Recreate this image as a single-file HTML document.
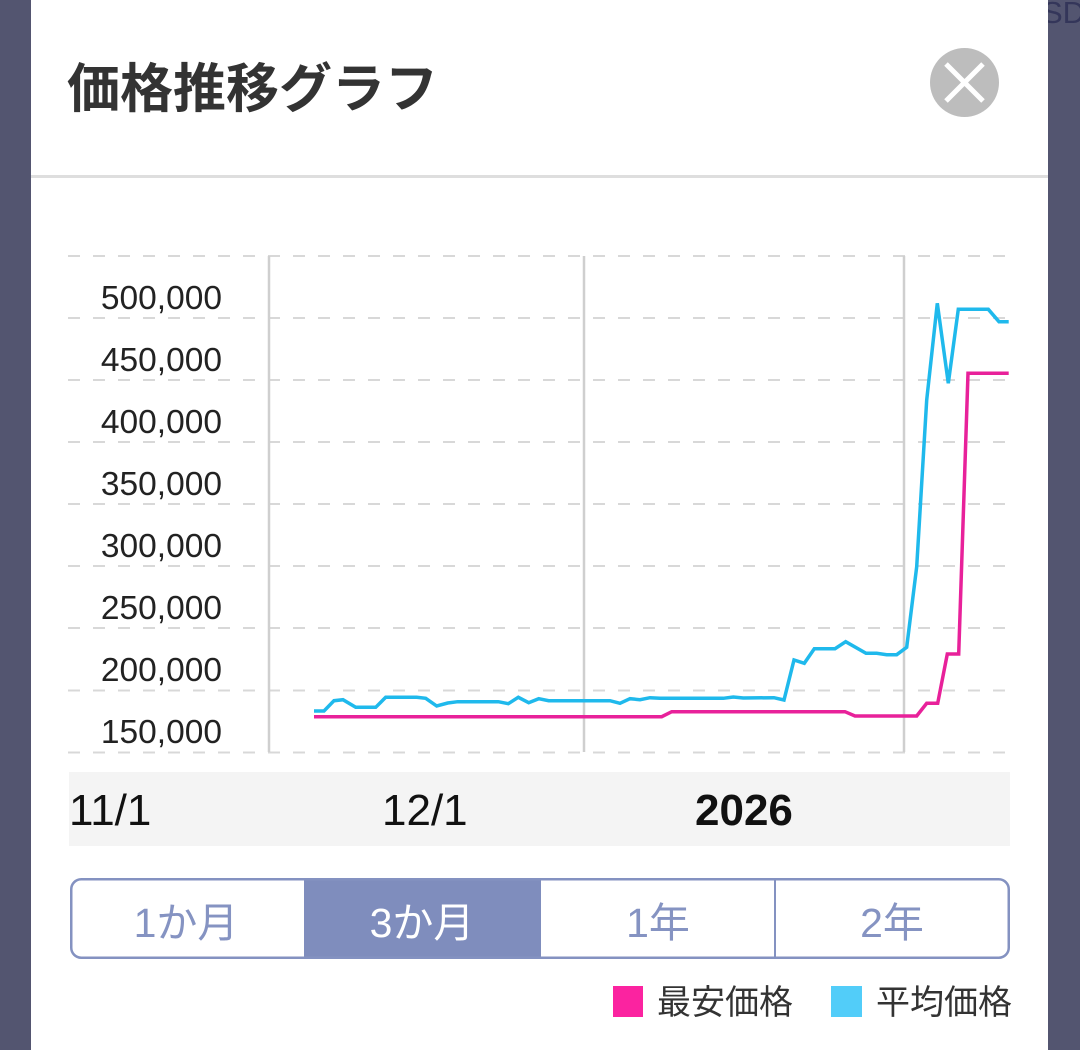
<!DOCTYPE html>
<html>
<head>
<meta charset="utf-8">
<style>
html,body{margin:0;padding:0;background:#535570;width:1080px;height:1050px;overflow:hidden;}
svg{display:block;}
text{font-family:"Liberation Sans","Noto Sans CJK JP",sans-serif;}
</style>
</head>
<body>
<svg width="1080" height="1050" viewBox="0 0 1080 1050" xmlns="http://www.w3.org/2000/svg">
  <rect x="0" y="0" width="1080" height="1050" fill="#535570"/>
  <text x="1042" y="23" font-size="31" fill="#34365a">SD</text>
  <!-- modal -->
  <rect x="31" y="-20" width="1017" height="1100" rx="20" fill="#ffffff"/>
  <!-- title -->
  <text x="67" y="107" font-size="53" font-weight="bold" fill="#333333" font-family="Noto Sans CJK JP, sans-serif">価格推移グラフ</text>
  <!-- close -->
  <circle cx="964.5" cy="82.5" r="34.5" fill="#bdbdbd"/>
  <line x1="946" y1="64" x2="983" y2="101" stroke="#ffffff" stroke-width="5"/>
  <line x1="983" y1="64" x2="946" y2="101" stroke="#ffffff" stroke-width="5"/>
  <!-- separator -->
  <rect x="31" y="175" width="1017" height="3" fill="#dedede"/>

  <!-- grid horizontal dashed -->
  <g stroke="#d8d8d8" stroke-width="2" stroke-dasharray="12 13">
    <line x1="68" y1="256" x2="1008" y2="256"/>
    <line x1="68" y1="318" x2="1008" y2="318"/>
    <line x1="68" y1="380" x2="1008" y2="380"/>
    <line x1="68" y1="442" x2="1008" y2="442"/>
    <line x1="68" y1="504" x2="1008" y2="504"/>
    <line x1="68" y1="566" x2="1008" y2="566"/>
    <line x1="68" y1="628" x2="1008" y2="628"/>
    <line x1="68" y1="690.5" x2="1008" y2="690.5"/>
    <line x1="68" y1="752.5" x2="1008" y2="752.5"/>
  </g>
  <!-- vertical lines -->
  <g stroke="#cfcfcf" stroke-width="2.5">
    <line x1="269" y1="256" x2="269" y2="752"/>
    <line x1="584" y1="256" x2="584" y2="752"/>
    <line x1="904" y1="256" x2="904" y2="752"/>
  </g>
  <!-- y labels -->
  <g font-size="33.5" fill="#222222" text-anchor="end">
    <text x="222" y="309">500,000</text>
    <text x="222" y="371">450,000</text>
    <text x="222" y="433">400,000</text>
    <text x="222" y="495">350,000</text>
    <text x="222" y="557">300,000</text>
    <text x="222" y="619">250,000</text>
    <text x="222" y="681">200,000</text>
    <text x="222" y="743">150,000</text>
  </g>

  <!-- series -->
  <polyline fill="none" stroke="#1fb9ec" stroke-width="3.5" stroke-linejoin="miter" points="314,711 324,711 334,700.7 343,699.7 355.7,707.3 375.7,707.3 385.7,697.3 416.7,697.3 425.7,698.3 436.7,706 447.7,703 457.7,701.7 498.3,701.7 508.3,703.7 518.3,697.3 528.7,702.7 538.7,698.7 548.7,700.7 610,700.7 620,703.3 630,698.7 640,699.7 650,697.7 660,698.3 723.3,698.3 733.3,697 743.3,698 774,697.7 784,700 794,660 804.3,663.3 814.3,648.7 835,648.7 845.7,641.7 866,653.3 876.7,653.3 886.7,654.7 896.7,654.7 906.7,647.3 916.7,566.7 926.7,400 937.3,303.3 948.3,383.3 958.3,309.3 988.3,309.3 999,321.7 1008.7,321.7"/>
  <polyline fill="none" stroke="#e8219a" stroke-width="3.5" points="314,716.7 661.7,716.7 671.7,711.7 845,711.7 855,716 916.7,716 926.7,703.3 937.7,703.3 947.3,654 958.7,654 968,373.3 1008.7,373.3"/>

  <!-- x axis band -->
  <rect x="69" y="772" width="941" height="74" fill="#f4f4f4"/>
  <g font-size="44" fill="#111111">
    <text x="69" y="825">11/1</text>
    <text x="382" y="825">12/1</text>
    <text x="695" y="825" font-weight="bold">2026</text>
  </g>

  <!-- buttons -->
  <rect x="304" y="879" width="237" height="80" fill="#7f8dbd"/>
  <rect x="71.25" y="879.25" width="937.5" height="78.5" rx="10" fill="none" stroke="#8492c1" stroke-width="2.5"/>
  <line x1="775" y1="879" x2="775" y2="959" stroke="#8492c1" stroke-width="2"/>
  <g font-size="41" text-anchor="middle" fill="#8593c2">
    <text x="186" y="937">1か月</text>
    <text x="422" y="937" fill="#ffffff">3か月</text>
    <text x="658" y="937">1年</text>
    <text x="892" y="937">2年</text>
  </g>

  <!-- legend -->
  <rect x="613" y="986" width="30" height="31" fill="#fb23a0"/>
  <text x="657" y="1014" font-size="34" fill="#333333">最安価格</text>
  <rect x="831" y="986" width="31" height="31" fill="#52cdf9"/>
  <text x="876" y="1014" font-size="34" fill="#333333">平均価格</text>
</svg>
</body>
</html>
